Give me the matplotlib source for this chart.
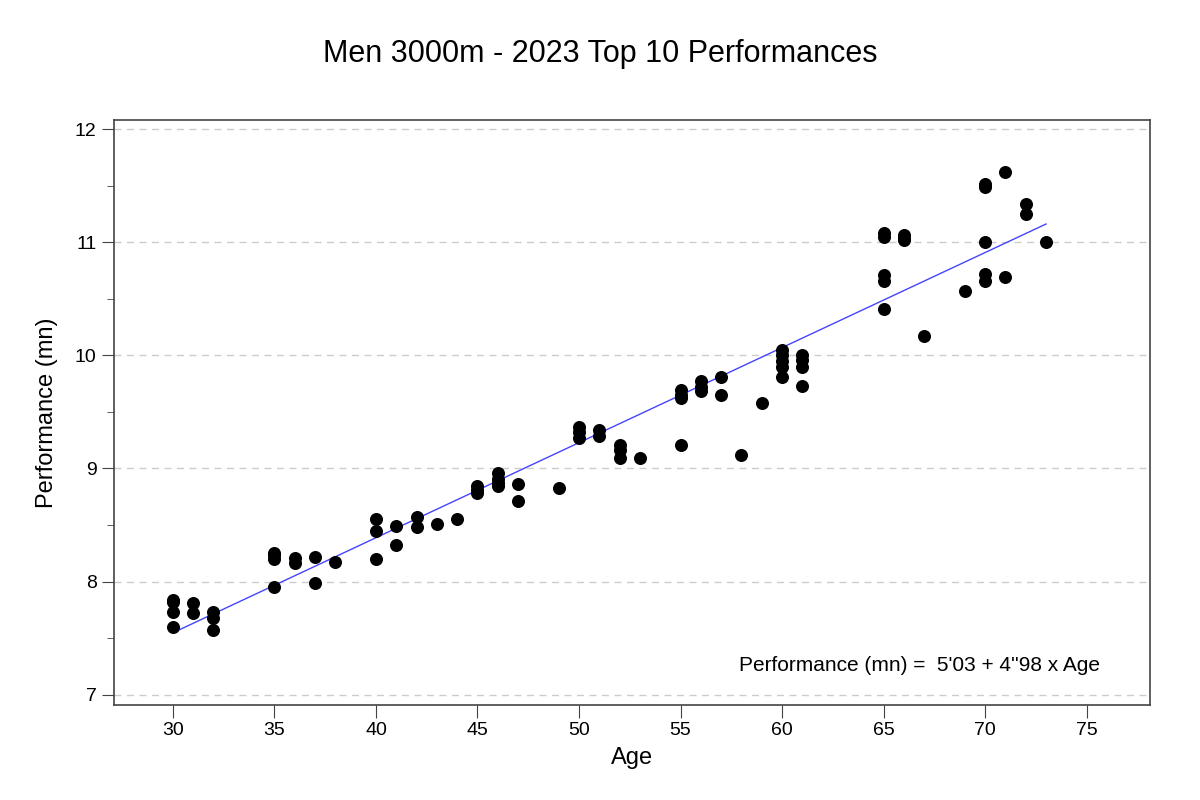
import numpy as np
import matplotlib
matplotlib.use("Agg")
import matplotlib.pyplot as plt
from matplotlib.ticker import MultipleLocator

plt.rcParams['font.family'] = ['Liberation Sans', 'DejaVu Sans']

# Donnees (age, performance en minutes)
ages = [30, 30, 30, 30, 31, 31, 32, 32, 32,
        35, 35, 35, 35, 36, 36, 37, 37, 38,
        40, 40, 40, 41, 41, 42, 42, 43, 44,
        45, 45, 45, 46, 46, 46, 46, 47, 47, 49,
        50, 50, 50, 51, 51, 52, 52, 52, 53,
        55, 55, 55, 55, 56, 56, 56, 57, 57, 58, 59,
        60, 60, 60, 60, 60, 61, 61, 61, 61,
        65, 65, 65, 65, 65, 66, 66, 66, 67, 69,
        70, 70, 70, 70, 70, 71, 71, 72, 72, 73]
perfs = [7.84, 7.82, 7.73, 7.60, 7.81, 7.72, 7.73, 7.68, 7.57,
         8.25, 8.23, 8.20, 7.95, 8.21, 8.16, 8.22, 7.99, 8.17,
         8.55, 8.45, 8.20, 8.49, 8.32, 8.57, 8.48, 8.51, 8.55,
         8.84, 8.81, 8.78, 8.96, 8.91, 8.87, 8.84, 8.86, 8.71, 8.83,
         9.37, 9.32, 9.27, 9.34, 9.29, 9.21, 9.16, 9.09, 9.09,
         9.69, 9.65, 9.62, 9.21, 9.77, 9.72, 9.68, 9.81, 9.65, 9.12, 9.58,
         10.05, 10.00, 9.95, 9.90, 9.81, 10.00, 9.96, 9.90, 9.73,
         11.08, 11.05, 10.71, 10.66, 10.41, 11.06, 11.04, 11.02, 10.17, 10.57,
         11.51, 11.49, 11.00, 10.72, 10.66, 11.62, 10.69, 11.34, 11.25, 11.00]

ages = np.array(ages)
perfs = np.array(perfs)

# Droite de regression
coef = np.polyfit(ages, perfs, 1)
xfit = np.linspace(ages.min(), ages.max(), 100)
yfit = np.polyval(coef, xfit)

fig = plt.figure(figsize=(12, 8), dpi=100)
ax = fig.add_axes([0.095, 0.119, 0.863, 0.731])

ax.scatter(ages, perfs, s=70, color='black', zorder=3)
ax.plot(xfit, yfit, color='#4444ff', lw=1, zorder=2)

ax.set_xlim(27.1, 78.1)
ax.set_ylim(6.91, 12.08)
ax.xaxis.set_major_locator(MultipleLocator(5))
ax.yaxis.set_major_locator(MultipleLocator(1))
ax.yaxis.set_minor_locator(MultipleLocator(0.5))
ax.tick_params(axis='both', which='major', labelsize=14, length=9, color='#444444')
ax.tick_params(axis='y', which='minor', length=5, color='#444444')
ax.grid(axis='y', which='major', linestyle=(0, (5, 4)), color='#cccccc', lw=1)
ax.set_axisbelow(True)
for s in ax.spines.values():
    s.set_color('#444444')
    s.set_linewidth(1.2)

ax.set_xlabel("Age", fontsize=17, labelpad=6)
ax.set_ylabel("Performance (mn)", fontsize=17, labelpad=12)
fig.text(0.5, 0.933, "Men 3000m - 2023 Top 10 Performances", ha='center', va='center', fontsize=22)
ax.text(0.952, 0.068, "Performance (mn) =  5'03 + 4''98 x Age", transform=ax.transAxes,
        ha='right', va='center', fontsize=15)

fig.savefig("out.png", dpi=100)
